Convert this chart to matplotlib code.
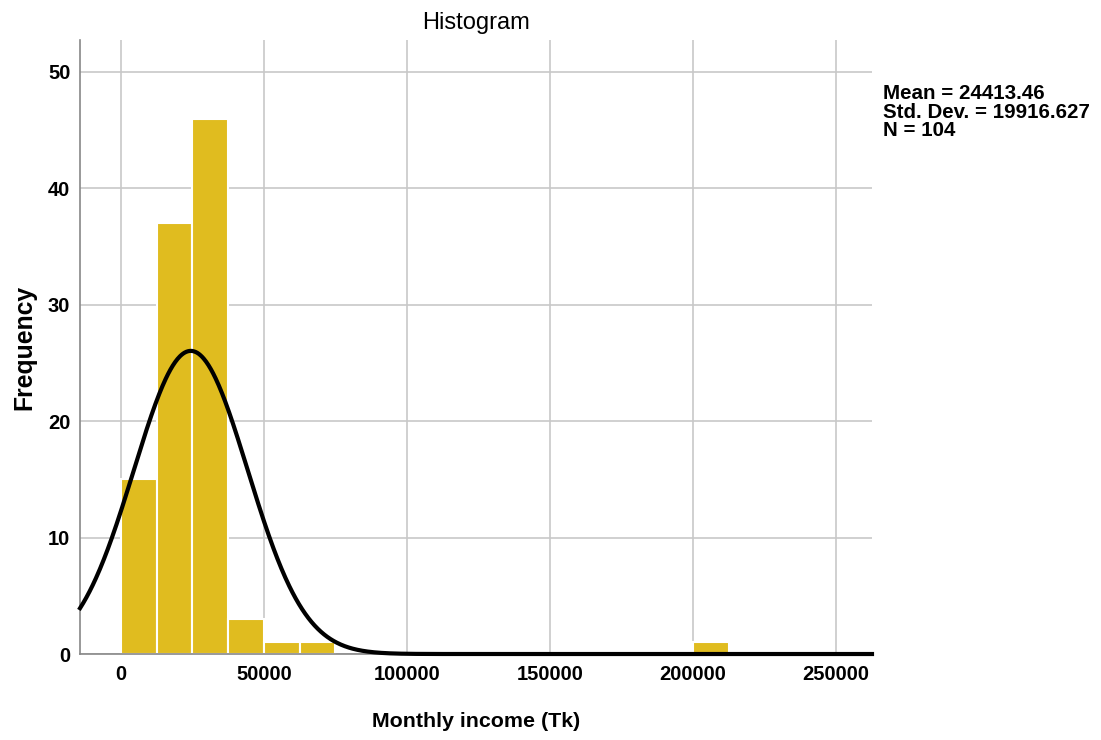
import numpy as np
import matplotlib
matplotlib.use("Agg")
import matplotlib.pyplot as plt

plt.rcParams['font.family'] = ['Liberation Sans', 'DejaVu Sans']

bin_width = 12500
bin_starts = [0, 12500, 25000, 37500, 50000, 62500, 200000]
counts = [15, 37, 46, 3, 1, 1, 1]
mean = 24413.46
std = 19916.627
n = 104
x_ticks = [0, 50000, 100000, 150000, 200000, 250000]
y_ticks = [0, 10, 20, 30, 40, 50]

fig = plt.figure(figsize=(11.01, 7.40), dpi=100)
ax = fig.add_axes([0.0727, 0.1162, 0.7193, 0.8298])

ax.bar(bin_starts, counts, width=bin_width, align='edge', color='#E0BC1F',
       edgecolor='white', linewidth=1.5, zorder=2)

xmin, xmax = -14300, 262600
xs = np.linspace(xmin, xmax, 1000)
ys = n * bin_width / (std * np.sqrt(2 * np.pi)) * np.exp(-0.5 * ((xs - mean) / std) ** 2)
ax.plot(xs, ys, color='black', linewidth=3.0, zorder=3, clip_on=False)

ax.set_xlim(xmin, xmax)
ax.set_ylim(0, 52.75)
ax.set_xticks(x_ticks)
ax.set_yticks(y_ticks)
ax.grid(True, color='#C8C8C8', linewidth=1.2, zorder=0)
ax.set_axisbelow(True)
ax.tick_params(axis='x', length=0, labelsize=14.5, pad=8)
ax.tick_params(axis='y', length=0, labelsize=14.5, pad=7)
for lab in ax.get_xticklabels() + ax.get_yticklabels():
    lab.set_fontweight('bold')
for s in ['top', 'right']:
    ax.spines[s].set_visible(False)
ax.spines['left'].set_color('#888888')
ax.spines['bottom'].set_color('#888888')
ax.spines['left'].set_linewidth(1.2)
ax.spines['bottom'].set_linewidth(1.2)

ax.set_title('Histogram', fontsize=17, pad=8)
ax.set_xlabel('Monthly income (Tk)', fontsize=15.4, fontweight='bold', labelpad=20)
ax.set_ylabel('Frequency', fontsize=17.8, fontweight='bold', labelpad=8)

fig.text(883 / 1101, 1 - 84 / 740,
         'Mean = 24413.46\nStd. Dev. = 19916.627\nN = 104',
         fontsize=14.8, fontweight='bold', va='top', ha='left', linespacing=0.97)

fig.savefig('out.png', dpi=100)
